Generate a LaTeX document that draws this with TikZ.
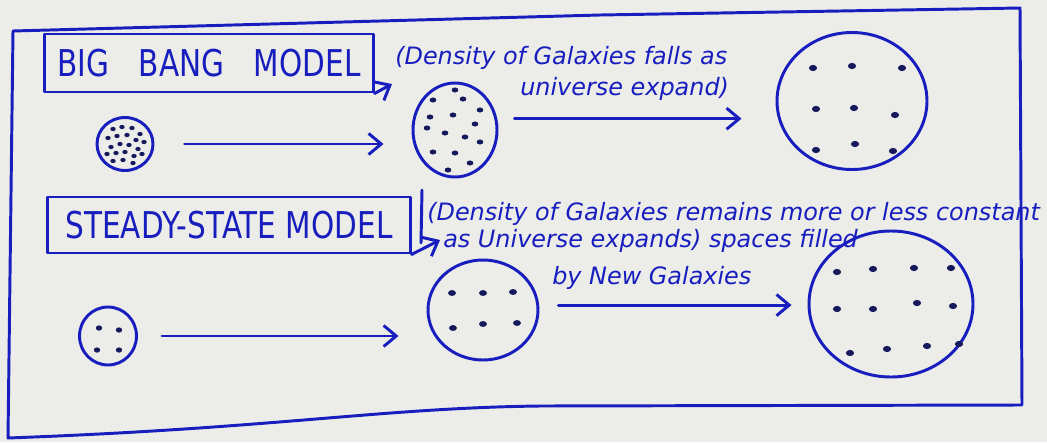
\documentclass[tikz,border=0pt]{standalone}
\usepackage{fontspec}
\setmainfont{DejaVu Sans}
\usepackage{graphicx}
\usepackage{tikz}
\usetikzlibrary{arrows}
\usetikzlibrary{arrows.meta}
\usetikzlibrary{shapes.geometric}
\definecolor{inkblue}{RGB}{24,30,190}
\definecolor{dotink}{RGB}{22,24,92}
\definecolor{paper}{RGB}{236,236,233}

\begin{document}
\begin{tikzpicture}[x=0.025cm,y=-0.025cm,
  pen/.style={draw=inkblue,line width=2.1pt,line cap=round,line join=round},
  galaxy/.style 2 args={pen,ellipse,inner sep=0pt,minimum width=#1*0.025cm,minimum height=#2*0.025cm},
  modelbox/.style={pen,rectangle,inner sep=0pt,text=inkblue,font=\fontsize{21}{24}\selectfont},
  note/.style={anchor=base west,inner sep=0pt,text=inkblue,font=\fontsize{17}{19}\selectfont\itshape},
  push/.style={pen,-{Straight Barb[length=9pt,width=15pt]}}]
\fill[paper] (0,0) rectangle (1047,442);
\useasboundingbox (0,0) rectangle (1047,442);
\draw[pen] (13,31) -- (600,15) -- (1020,8) -- (1022,405) -- (540,406) .. controls (380,408) and (280,428) .. (8,438) -- cycle;

\node[modelbox,minimum width=8.2cm,minimum height=1.45cm] (bbbox) at (209,63) {\scalebox{1}[1.25]{BIG\quad BANG\quad MODEL}};
\node[modelbox,minimum width=9.05cm,minimum height=1.4cm] (ssbox) at (229,225) {\scalebox{1}[1.25]{STEADY-STATE MODEL}};
\draw[pen] (422,190) -- (421,243);
\coordinate (bbin) at (392,84);
\coordinate (ssin) at (440,240);
\draw[push] (bbbox.south east) -- (bbin);
\draw[push] (ssbox.south east) -- (ssin);

\node[note] (bbnote1) at (395,64) {(Density of Galaxies falls as};
\node[note] (bbnote2) at (520,95) {universe expand)};
\node[note] (ssnote1) at (427,220) {(Density of Galaxies remains more or less constant};
\node[note] (ssnote2) at (443,247) {as Universe expands) spaces filled};
\node[note] (ssnote3) at (552,284) {by New Galaxies};

\node[galaxy={56}{53}] (bbsmall) at (125,144) {};
\node[galaxy={84}{94}] (bbmid) at (455,130) {};
\node[galaxy={150}{137}] (bbbig) at (852,101) {};
\node[galaxy={57}{58}] (sssmall) at (108,336) {};
\node[galaxy={110}{100}] (ssmid) at (483,310) {};
\node[galaxy={164}{146}] (ssbig) at (891,304) {};

\draw[push,shorten <=0.75cm,shorten >=0.7cm] (bbsmall) -- (bbsmall -| bbmid.west);
\draw[push,shorten <=0.43cm,shorten >=0.85cm] (bbmid.15) -- (bbmid.15 -| bbbig.west);
\draw[push,shorten <=0.6cm,shorten >=0.7cm] (sssmall) -- (sssmall -| ssmid.west);
\draw[push,shorten <=0.48cm,shorten >=0.4cm] (ssmid.5) -- (ssmid.5 -| ssbig.west);

\foreach \x/\y in {113/129,122/127,132/128,140/134,108/138,117/136,127/135,136/140,144/142,111/147,120/144,129/145,138/149,107/154,116/153,125/152,134/156,142/154,113/161,123/160,133/163}
  \fill[dotink] (\x,\y) ellipse (1.9pt and 1.5pt);
\foreach \x/\y in {455/90,433/100,463/99,480/110,453/115,430/117,475/124,427/128,445/133,465/137,480/142,433/152,455/153,470/163,448/170}
  \fill[dotink] (\x,\y) ellipse (2.4pt and 1.8pt);
\foreach \x/\y in {813/68,852/66,902/68,816/109,854/108,895/115,816/150,855/144,893/151}
  \fill[dotink] (\x,\y) ellipse (2.9pt and 2.2pt);
\foreach \x/\y in {99/328,119/330,97/350,119/350}
  \fill[dotink] (\x,\y) ellipse (2.3pt and 1.9pt);
\foreach \x/\y in {452/293,483/293,513/292,453/328,483/324,517/323}
  \fill[dotink] (\x,\y) ellipse (2.8pt and 2.1pt);
\foreach \x/\y in {837/272,873/269,914/268,951/268,837/309,873/309,917/303,953/306,850/353,887/349,927/346,959/344}
  \fill[dotink] (\x,\y) ellipse (2.9pt and 2.2pt);
\end{tikzpicture}
\end{document}
